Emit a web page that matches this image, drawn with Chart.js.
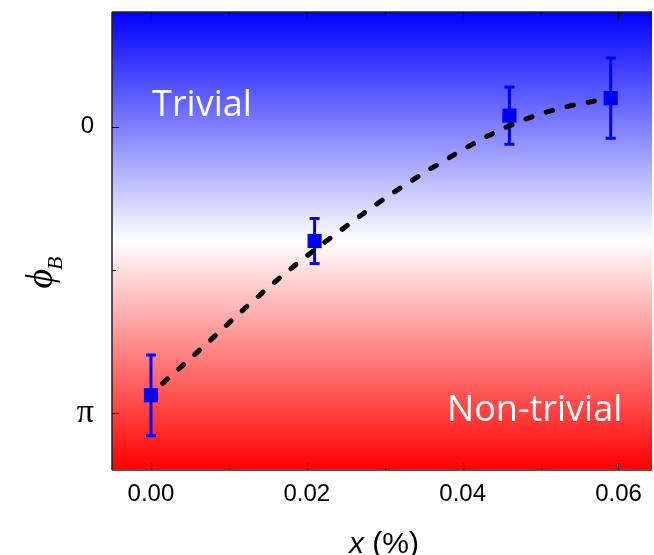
<!DOCTYPE html>
<html>
<head>
<meta charset="utf-8">
<script src="https://cdn.jsdelivr.net/npm/chart.js@4"></script>
<style>
  html, body { margin: 0; padding: 0; background: #fff; overflow: hidden; width: 654px; height: 555px; }
  #wrap { width: 662px; height: 555px; }
  canvas { display: block; width: 662px; height: 555px; }
</style>
</head>
<body>
<div id="wrap"><canvas id="phaseChart" width="662" height="555"></canvas></div>
<script>
// Berry phase (in units of π) versus doping x (%)
const xTickValues = [0, 0.02, 0.04, 0.06];
const xTickLabels = ['0.00', '0.02', '0.04', '0.06'];
const xMinorTicks = [0.01, 0.03, 0.05];
const yTickValues = [0, 1];
const yTickLabels = ['0', 'π'];
const yMinorTicks = [0.5];

// measured points
const dopingX = [0, 0.021, 0.046, 0.059];
const phaseB = [0.939, 0.400, -0.038, -0.099];
const phaseErr = [0.141, 0.079, 0.100, 0.140];

// guide-to-the-eye curve
const fitX = [0.0015, 0.0061, 0.0119, 0.0178, 0.0240, 0.0305, 0.0371, 0.0439, 0.0488, 0.0539, 0.0571];
const fitY = [0.897, 0.785, 0.639, 0.500, 0.370, 0.242, 0.128, 0.024, -0.033, -0.073, -0.090];

// region captions
const regionLabels = ['Trivial', 'Non-trivial'];
const regionX = [0.00014, 0.0380];
const regionY = [-0.035, 1.029];

const SANS = '"Liberation Sans", Arial, sans-serif';
const SERIF = '"Liberation Serif", "Times New Roman", serif';
const CAPTION = '"Open Sans", "Liberation Sans", sans-serif';

const backdrop = {
  id: 'backdrop',
  beforeDatasetsDraw(chart) {
    const { ctx, chartArea: a, scales: { x, y } } = chart;
    ctx.save();
    const g = ctx.createLinearGradient(0, a.top, 0, a.bottom);
    g.addColorStop(0, '#0000ff');
    g.addColorStop(0.5, '#ffffff');
    g.addColorStop(1, '#ff0000');
    ctx.fillStyle = g;
    ctx.fillRect(a.left, a.top, a.right - a.left, a.bottom - a.top);

    // frame
    ctx.lineWidth = 1.5;
    ctx.strokeStyle = '#222';
    ctx.beginPath();
    ctx.moveTo(a.left, a.top); ctx.lineTo(a.right, a.top);
    ctx.moveTo(a.left, a.top); ctx.lineTo(a.left, a.bottom);
    ctx.stroke();
    ctx.strokeStyle = '#555';
    ctx.lineWidth = 2;
    ctx.beginPath();
    ctx.moveTo(a.left, a.bottom); ctx.lineTo(a.right, a.bottom);
    ctx.stroke();

    // inward ticks
    ctx.strokeStyle = '#111';
    ctx.lineWidth = 1.2;
    ctx.beginPath();
    const xt = (v, len) => {
      const px = Math.round(x.getPixelForValue(v)) + 0.5;
      ctx.moveTo(px, a.bottom); ctx.lineTo(px, a.bottom - len);
      ctx.moveTo(px, a.top); ctx.lineTo(px, a.top + len);
    };
    xTickValues.forEach(v => xt(v, 7));
    xMinorTicks.forEach(v => xt(v, 4));
    const yt = (v, len) => {
      const py = Math.round(y.getPixelForValue(v)) + 0.5;
      ctx.moveTo(a.left, py); ctx.lineTo(a.left + len, py);
    };
    yTickValues.forEach(v => yt(v, 7));
    yMinorTicks.forEach(v => yt(v, 4));
    ctx.stroke();

    // error bars
    ctx.strokeStyle = '#0000ff';
    ctx.lineWidth = 3;
    dopingX.forEach((xv, i) => {
      const px = x.getPixelForValue(xv);
      const top = y.getPixelForValue(phaseB[i] - phaseErr[i]);
      const bot = y.getPixelForValue(phaseB[i] + phaseErr[i]);
      ctx.beginPath();
      ctx.moveTo(px, top); ctx.lineTo(px, bot);
      ctx.moveTo(px - 5, top); ctx.lineTo(px + 5, top);
      ctx.moveTo(px - 5, bot); ctx.lineTo(px + 5, bot);
      ctx.stroke();
    });
    ctx.restore();
  }
};

const captions = {
  id: 'captions',
  afterDraw(chart) {
    const { ctx, chartArea: a, scales: { x, y } } = chart;
    ctx.save();
    ctx.fillStyle = '#ffffff';
    ctx.font = '36px ' + CAPTION;
    ctx.textBaseline = 'alphabetic';
    ctx.textAlign = 'left';
    regionLabels.forEach((t, i) => {
      ctx.fillText(t, x.getPixelForValue(regionX[i]), y.getPixelForValue(regionY[i]));
    });

    // x-axis title: italic x followed by (%)
    ctx.fillStyle = '#000';
    const cx = (a.left + a.right) / 2 + 2;
    const base = 553;
    ctx.font = 'italic 30px ' + SANS;
    const w1 = ctx.measureText('x').width;
    ctx.font = '30px ' + SANS;
    const w2 = ctx.measureText(' (%)').width;
    let sx = cx - (w1 + w2) / 2;
    ctx.font = 'italic 30px ' + SANS;
    ctx.fillText('x', sx, base);
    ctx.font = '30px ' + SANS;
    ctx.fillText(' (%)', sx + w1, base);

    // y-axis title: ϕ with subscript B, rotated
    ctx.translate(52, 272);
    ctx.rotate(-Math.PI / 2);
    ctx.font = 'italic 38px ' + SERIF;
    const wp = ctx.measureText('ϕ').width;
    ctx.font = 'italic 22px ' + SERIF;
    const wb = ctx.measureText('B').width;
    const start = -(wp + wb) / 2;
    ctx.font = 'italic 38px ' + SERIF;
    ctx.fillText('ϕ', start, 0);
    ctx.font = 'italic 22px ' + SERIF;
    ctx.fillText('B', start + wp - 1, 10);
    ctx.restore();
  }
};

new Chart(document.getElementById('phaseChart'), {
  type: 'scatter',
  data: {
    datasets: [
      {
        type: 'line',
        data: fitX.map((v, i) => ({ x: v, y: fitY[i] })),
        borderColor: '#000',
        borderWidth: 5,
        borderDash: [6.5, 15],
        borderCapStyle: 'round',
        pointRadius: 0,
        cubicInterpolationMode: 'monotone',
        fill: false,
        order: 0
      },
      {
        type: 'scatter',
        data: dopingX.map((v, i) => ({ x: v, y: phaseB[i] })),
        pointStyle: 'rect',
        pointRadius: 10,
        backgroundColor: '#0000ff',
        borderWidth: 0,
        order: 1
      }
    ]
  },
  options: {
    responsive: false,
    maintainAspectRatio: false,
    animation: false,
    layout: { padding: { top: 12, right: 2, left: 0, bottom: 0 } },
    plugins: { legend: { display: false }, tooltip: { enabled: false } },
    scales: {
      x: {
        type: 'linear',
        min: -0.005,
        max: 0.0643,
        afterBuildTicks: s => { s.ticks = xTickValues.map(v => ({ value: v })); },
        afterFit: s => {
          s.height = 85;
          s.paddingLeft = 0; s.paddingRight = 0; s.paddingTop = 0; s.paddingBottom = 0;
        },
        grid: { display: false, drawTicks: false },
        border: { display: false },
        ticks: {
          callback: v => xTickLabels[xTickValues.indexOf(v)] ?? '',
          font: { family: SANS, size: 24 },
          color: '#000',
          padding: 10,
          maxRotation: 0
        }
      },
      y: {
        type: 'linear',
        min: -0.4,
        max: 1.2,
        reverse: true,
        afterBuildTicks: s => { s.ticks = yTickValues.map(v => ({ value: v })); },
        afterFit: s => {
          s.width = 112;
          s.paddingLeft = 0; s.paddingRight = 0; s.paddingTop = 0; s.paddingBottom = 0;
        },
        grid: { display: false, drawTicks: false },
        border: { display: false },
        ticks: {
          callback: v => yTickLabels[yTickValues.indexOf(v)] ?? '',
          font: ctx => (ctx.tick && ctx.tick.value === 1)
            ? { family: SERIF, size: 34 }
            : { family: SANS, size: 24 },
          color: '#000',
          padding: 18
        }
      }
    }
  },
  plugins: [backdrop, captions]
});
</script>
</body>
</html>
